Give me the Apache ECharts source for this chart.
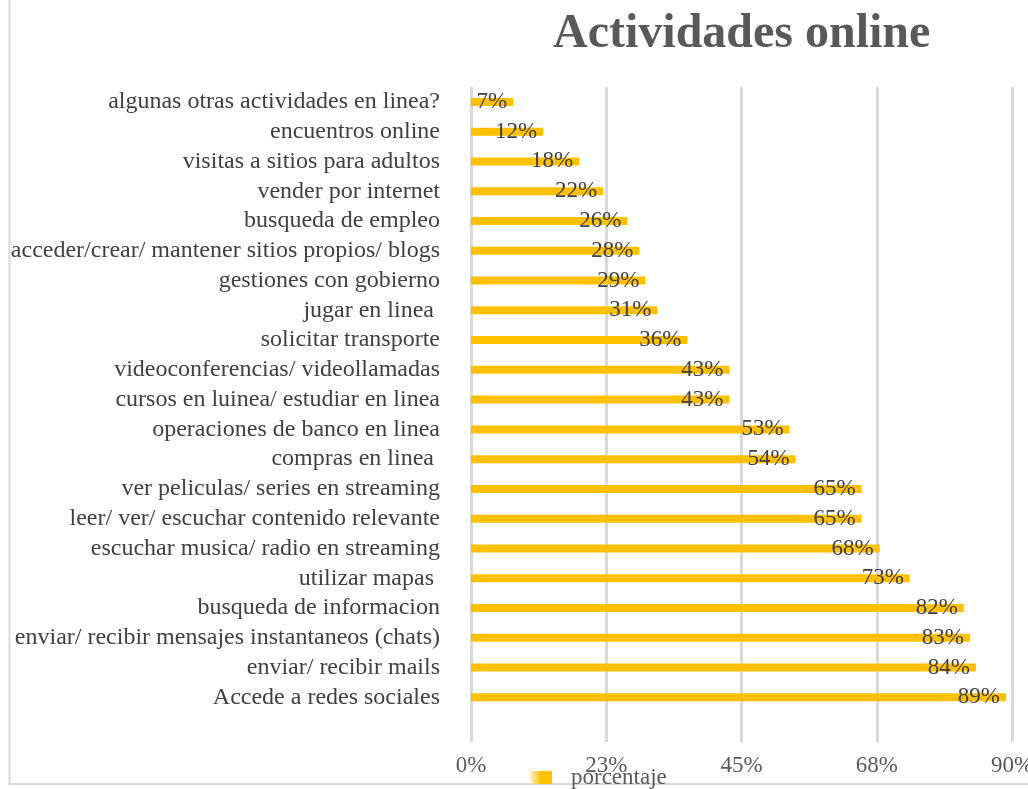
<!DOCTYPE html>
<html>
<head>
<meta charset="utf-8">
<script src="https://cdn.jsdelivr.net/npm/echarts@6/dist/echarts.min.js"></script>
<style>
  html, body { margin: 0; padding: 0; background: #fff; overflow: hidden; }
  #chart { width: 1028px; height: 789px; }
</style>
</head>
<body>
<div id="chart"></div>
<script>
// categories, top to bottom (the last row is empty in the original sheet)
var categories = [
  'algunas otras actividades en linea?',
  'encuentros online',
  'visitas a sitios para adultos',
  'vender por internet',
  'busqueda de empleo',
  'acceder/crear/ mantener sitios propios/ blogs',
  'gestiones con gobierno',
  'jugar en linea ',
  'solicitar transporte',
  'videoconferencias/ videollamadas',
  'cursos en luinea/ estudiar en linea',
  'operaciones de banco en linea',
  'compras en linea ',
  'ver peliculas/ series en streaming',
  'leer/ ver/ escuchar contenido relevante',
  'escuchar musica/ radio en streaming',
  'utilizar mapas ',
  'busqueda de informacion',
  'enviar/ recibir mensajes instantaneos (chats)',
  'enviar/ recibir mails',
  'Accede a redes sociales',
  ''
]
// porcentaje (%)
var porcentaje = [7, 12, 18, 22, 26, 28, 29, 31, 36, 43, 43, 53, 54, 65, 65, 68, 73, 82, 83, 84, 89, null]
// x axis ticks
var xTicks = [0, 22.5, 45, 67.5, 90]

var serif = '"Liberation Serif", "DejaVu Serif", serif'
var chart = echarts.init(document.getElementById('chart'))

chart.setOption({
  animation: false,
  title: {
    text: 'Actividades online',
    left: 548,
    top: 6,
    textStyle: {
      fontFamily: serif,
      fontSize: 48,
      fontWeight: 'bold',
      color: '#595959'
    }
  },
  graphic: [{
    // outer chart border
    type: 'rect',
    shape: { x: 9.5, y: -10, width: 1040, height: 794 },
    style: { fill: 'none', stroke: '#d9d9d9', lineWidth: 2 },
    silent: true
  }],
  legend: {
    left: 530,
    top: 766,
    padding: 0,
    itemWidth: 22,
    itemHeight: 13,
    textStyle: { fontFamily: serif, fontSize: 23, color: '#595959', padding: [0, 0, 2, 14] },
    data: [{
      name: 'porcentaje',
      icon: 'rect',
      itemStyle: {
        color: new echarts.graphic.LinearGradient(0, 0, 1, 0, [
          { offset: 0, color: '#fff3cc' },
          { offset: 0.5, color: '#ffc000' },
          { offset: 1, color: '#ffc000' }
        ])
      }
    }]
  },
  grid: {
    left: 471,
    right: 16,
    top: 87,
    bottom: 47,
    containLabel: false,
    outerBoundsMode: 'none'
  },
  xAxis: {
    type: 'value',
    min: xTicks[0],
    max: xTicks[xTicks.length - 1],
    interval: xTicks[1] - xTicks[0],
    axisLine: { show: false },
    axisTick: { show: false },
    axisLabel: {
      margin: 12,
      fontFamily: serif,
      fontSize: 23,
      color: '#595959',
      formatter: function (v) { return Math.round(v) + '%' }
    },
    splitLine: { lineStyle: { color: '#d9d9d9', width: 3 } }
  },
  yAxis: {
    type: 'category',
    inverse: true,
    data: categories,
    axisLine: { show: false },
    axisTick: { show: false },
    axisLabel: {
      interval: 0,
      margin: 31,
      fontFamily: serif,
      fontSize: 24,
      color: '#404040'
    }
  },
  series: [{
    name: 'porcentaje',
    type: 'bar',
    data: porcentaje,
    barWidth: 8,
    itemStyle: { color: '#ffc000' },
    label: {
      show: true,
      position: 'insideRight',
      distance: 6,
      fontFamily: serif,
      fontSize: 23,
      color: '#404040',
      formatter: '{c}%'
    }
  }]
})
</script>
</body>
</html>
